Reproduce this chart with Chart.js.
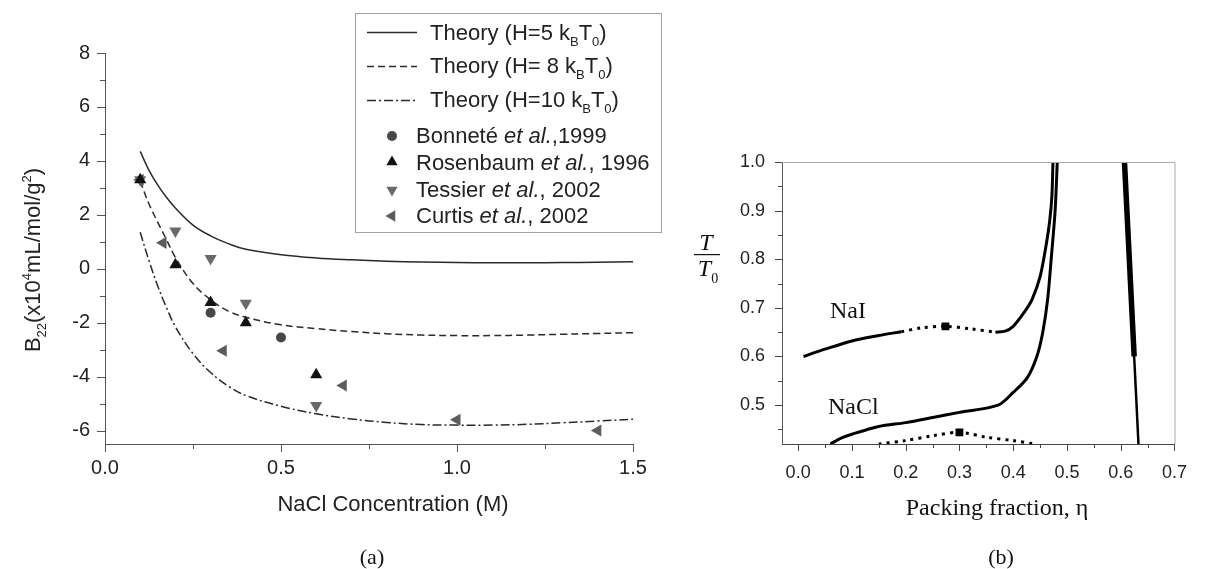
<!DOCTYPE html>
<html>
<head>
<meta charset="utf-8">
<script src="https://cdn.jsdelivr.net/npm/chart.js@4.4.0/dist/chart.umd.min.js"></script>
<style>
  html, body { margin: 0; padding: 0; background: #fff; }
  #wrap { position: relative; width: 1205px; height: 569px; overflow: hidden; }
  #left { position: absolute; left: 0; top: 0; }
  #right { position: absolute; left: 680px; top: 0; }
</style>
</head>
<body>
<div id="wrap">
  <canvas id="left" width="680" height="569" style="width:680px;height:569px"></canvas>
  <canvas id="right" width="525" height="569" style="width:525px;height:569px"></canvas>
</div>
<script>
// ---- (a) B22 vs NaCl concentration ----
const conc = [0.1, 0.125, 0.15, 0.175, 0.2, 0.25, 0.3, 0.35, 0.4, 0.5, 0.6, 0.7, 0.8, 0.9, 1.0, 1.1, 1.2, 1.3, 1.4, 1.5];
const theoryH5 = [4.35, 3.65, 3.1, 2.64, 2.25, 1.62, 1.22, 0.93, 0.72, 0.52, 0.4, 0.33, 0.28, 0.25, 0.23, 0.22, 0.22, 0.23, 0.24, 0.26];
const theoryH8 = [3.25, 2.4, 1.72, 1.07, 0.42, -0.55, -1.15, -1.57, -1.8, -2.08, -2.22, -2.33, -2.41, -2.46, -2.48, -2.48, -2.46, -2.43, -2.4, -2.37];
const theoryH10 = [1.35, 0.3, -0.65, -1.45, -2.15, -3.15, -3.85, -4.35, -4.7, -5.1, -5.38, -5.57, -5.7, -5.78, -5.8, -5.8, -5.77, -5.71, -5.65, -5.58];

const bonneteX = [0.3, 0.5];
const bonneteY = [-1.63, -2.55];
const rosenbaumX = [0.1, 0.2, 0.3, 0.4, 0.6];
const rosenbaumY = [3.3, 0.15, -1.25, -2.0, -3.93];
const tessierX = [0.1, 0.2, 0.3, 0.4, 0.6];
const tessierY = [3.3, 1.4, 0.38, -1.28, -5.07];
const curtisX = [0.1, 0.165, 0.336, 0.677, 1.0, 1.4];
const curtisY = [3.3, 0.96, -3.04, -4.33, -5.6, -6.0];

const leftXTicks = [0, 0.5, 1.0, 1.5];
const leftXMinor = [0.25, 0.75, 1.25];
const leftYTicks = [-6, -4, -2, 0, 2, 4, 6, 8];
const leftYMinor = [-5, -3, -1, 1, 3, 5, 7];

// legend labels: [text, style] pieces, style '' | 'i' | 'sub'
const theoryLabels = [
  [['Theory (H=5 k', ''], ['B', 'sub'], ['T', ''], ['0', 'sub'], [')', '']],
  [['Theory (H= 8 k', ''], ['B', 'sub'], ['T', ''], ['0', 'sub'], [')', '']],
  [['Theory (H=10 k', ''], ['B', 'sub'], ['T', ''], ['0', 'sub'], [')', '']]
];
const dataLabels = [
  [['Bonneté ', ''], ['et al.', 'i'], [',1999', '']],
  [['Rosenbaum ', ''], ['et al.', 'i'], [', 1996', '']],
  [['Tessier ', ''], ['et al.', 'i'], [', 2002', '']],
  [['Curtis ', ''], ['et al.', 'i'], [', 2002', '']]
];

// ---- (b) T/T0 vs packing fraction ----
const naiLowX = [0.01, 0.05, 0.1, 0.15, 0.192];
const naiLowY = [0.6, 0.615, 0.632, 0.643, 0.651];
const naiDotX = [0.192, 0.23, 0.274, 0.32, 0.367];
const naiDotY = [0.651, 0.659, 0.662, 0.657, 0.65];
const naiHighX = [0.367, 0.385, 0.4, 0.42, 0.435, 0.45, 0.462, 0.468, 0.472, 0.474];
const naiHighY = [0.65, 0.652, 0.662, 0.69, 0.717, 0.764, 0.834, 0.88, 0.93, 1.0];
const naclX = [0.06, 0.08, 0.1, 0.15, 0.2, 0.253, 0.3, 0.372, 0.4, 0.426, 0.444, 0.455, 0.464, 0.471, 0.478, 0.482];
const naclY = [0.42, 0.432, 0.44, 0.456, 0.464, 0.475, 0.485, 0.5, 0.526, 0.556, 0.6, 0.65, 0.717, 0.805, 0.9, 1.0];
const naclDotX = [0.15, 0.2, 0.25, 0.3, 0.35, 0.4, 0.44];
const naclDotY = [0.42, 0.427, 0.437, 0.444, 0.434, 0.427, 0.42];
const critX = [0.274, 0.3];
const critY = [0.662, 0.444];
const solidThickX = [0.607, 0.616, 0.625];
const solidThickY = [1.0, 0.8, 0.6];
const solidThinX = [0.621, 0.625, 0.633];
const solidThinY = [0.68, 0.6, 0.42];

const rightXTicks = [0, 0.1, 0.2, 0.3, 0.4, 0.5, 0.6, 0.7];
const rightXMinor = [0.05, 0.15, 0.25, 0.35, 0.45, 0.55, 0.65];
const rightYTicks = [0.5, 0.6, 0.7, 0.8, 0.9, 1.0];
const rightYMinor = [0.45, 0.55, 0.65, 0.75, 0.85, 0.95];

const SANS = "'Liberation Sans', Arial, sans-serif";
const SERIF = "'Liberation Serif', 'Times New Roman', serif";

const pts = (xs, ys) => xs.map((x, i) => ({ x: x, y: ys[i] }));

// draw a run of text pieces with italics / sub / superscripts
function richText(ctx, parts, x, y, size, family, align) {
  const fontFor = k => (k === 'i' ? 'italic ' : '') +
    Math.round(k === 'sub' || k === 'sup' ? size * 0.6 : size) + 'px ' + family;
  let w = 0;
  parts.forEach(([t, k]) => { ctx.font = fontFor(k); w += ctx.measureText(t).width; });
  let cx = align === 'center' ? x - w / 2 : x;
  ctx.textAlign = 'left';
  ctx.textBaseline = 'alphabetic';
  parts.forEach(([t, k]) => {
    ctx.font = fontFor(k);
    const dy = k === 'sub' ? size * 0.28 : k === 'sup' ? -size * 0.42 : 0;
    ctx.fillText(t, cx, y + dy);
    cx += ctx.measureText(t).width;
  });
}

function drawTicks(chart, xMaj, xMin, yMaj, yMin, lenMaj, lenMin, color) {
  const { ctx, chartArea: a, scales } = chart;
  ctx.save();
  ctx.strokeStyle = color;
  ctx.lineWidth = 1;
  ctx.beginPath();
  xMaj.concat(xMin).forEach((v, i) => {
    const px = Math.round(scales.x.getPixelForValue(v)) + 0.5;
    ctx.moveTo(px, a.bottom);
    ctx.lineTo(px, a.bottom + (i < xMaj.length ? lenMaj : lenMin));
  });
  yMaj.concat(yMin).forEach((v, i) => {
    const py = Math.round(scales.y.getPixelForValue(v)) + 0.5;
    ctx.moveTo(a.left, py);
    ctx.lineTo(a.left - (i < yMaj.length ? lenMaj : lenMin), py);
  });
  ctx.stroke();
  ctx.restore();
}

function marker(ctx, style, rot, r, x, y, color) {
  ctx.save();
  ctx.fillStyle = color;
  ctx.beginPath();
  if (style === 'circle') {
    ctx.arc(x, y, r, 0, Math.PI * 2);
  } else {
    let rad = rot * Math.PI / 180;
    for (let k = 0; k < 3; k++) {
      const px = x + Math.sin(rad) * r, py = y - Math.cos(rad) * r;
      k ? ctx.lineTo(px, py) : ctx.moveTo(px, py);
      rad += Math.PI * 2 / 3;
    }
    ctx.closePath();
  }
  ctx.fill();
  ctx.restore();
}

const lineStyles = [
  { borderDash: [] },
  { borderDash: [7, 4] },
  { borderDash: [9, 3, 2, 3] }
];
const markerStyles = [
  { pointStyle: 'circle', rotation: 0, pointRadius: 5, color: '#474747' },
  { pointStyle: 'triangle', rotation: 0, pointRadius: 7, color: '#111111' },
  { pointStyle: 'triangle', rotation: 180, pointRadius: 7, color: '#6a6a6a' },
  { pointStyle: 'triangle', rotation: -90, pointRadius: 7, color: '#5c5c5c' }
];

const leftDecor = {
  id: 'leftDecor',
  afterDraw(chart) {
    const ctx = chart.ctx;
    drawTicks(chart, leftXTicks, leftXMinor, leftYTicks, leftYMinor, 8, 5, '#555');
    ctx.save();
    ctx.fillStyle = '#222';
    // axis titles
    richText(ctx, [['NaCl Concentration (M)', '']], 393, 511, 22, SANS, 'center');
    ctx.save();
    ctx.translate(40, 260);
    ctx.rotate(-Math.PI / 2);
    richText(ctx, [['B', ''], ['22', 'sub'], ['(x10', ''], ['4', 'sup'], ['mL/mol/g', ''], ['2', 'sup'], [')', '']], 0, 0, 22, SANS, 'center');
    ctx.restore();
    ctx.fillStyle = '#111';
    richText(ctx, [['(a)', '']], 372, 564, 22, SERIF, 'center');

    // legend box
    ctx.fillStyle = '#fff';
    ctx.fillRect(355.5, 13.5, 306, 219);
    ctx.strokeStyle = '#a0a0a0';
    ctx.lineWidth = 1;
    ctx.strokeRect(355.5, 13.5, 306, 219);
    const lineRows = [32, 66, 100];
    const lineBase = [40, 73, 107];
    lineRows.forEach((yy, i) => {
      ctx.save();
      ctx.strokeStyle = '#2a2a2a';
      ctx.lineWidth = 1.5;
      ctx.setLineDash(lineStyles[i].borderDash);
      ctx.beginPath();
      ctx.moveTo(367, yy + 0.5);
      ctx.lineTo(417, yy + 0.5);
      ctx.stroke();
      ctx.restore();
      ctx.fillStyle = '#222';
      richText(ctx, theoryLabels[i], 430, lineBase[i], 22, SANS);
    });
    const dotRows = [136, 162, 190, 216];
    const dotBase = [143, 170, 197, 223];
    dotRows.forEach((yy, i) => {
      const m = markerStyles[i];
      marker(ctx, m.pointStyle, m.rotation, m.pointStyle === 'circle' ? 5 : 6.5, 392, yy, m.color);
      ctx.fillStyle = '#222';
      richText(ctx, dataLabels[i], 416, dotBase[i], 22, SANS);
    });
    ctx.restore();
  }
};

const theorySets = [theoryH5, theoryH8, theoryH10].map((ys, i) => ({
  data: pts(conc, ys),
  showLine: true,
  borderColor: '#2a2a2a',
  borderWidth: 1.5,
  borderDash: lineStyles[i].borderDash,
  pointRadius: 0,
  tension: 0.4,
  order: 2
}));
const expSets = [[bonneteX, bonneteY], [rosenbaumX, rosenbaumY], [tessierX, tessierY], [curtisX, curtisY]].map(([xs, ys], i) => ({
  data: pts(xs, ys),
  showLine: false,
  pointStyle: markerStyles[i].pointStyle,
  rotation: markerStyles[i].rotation,
  pointRadius: markerStyles[i].pointRadius,
  backgroundColor: markerStyles[i].color,
  borderColor: markerStyles[i].color,
  borderWidth: 0,
  order: 1
}));

new Chart(document.getElementById('left'), {
  type: 'scatter',
  data: { datasets: theorySets.concat(expSets) },
  options: {
    responsive: false,
    animation: false,
    events: [],
    layout: { padding: { top: 53, right: 47, left: 0, bottom: 0 } },
    plugins: { legend: { display: false }, tooltip: { enabled: false } },
    scales: {
      x: {
        type: 'linear', min: 0, max: 1.5,
        afterBuildTicks: s => { s.ticks = leftXTicks.map(v => ({ value: v })); },
        afterFit: s => { s.height = 125; },
        grid: { display: false, drawTicks: false },
        border: { display: true, color: '#555', width: 1 },
        ticks: { callback: v => v.toFixed(1), color: '#222', font: { family: SANS, size: 20 }, padding: 12, maxRotation: 0, autoSkip: false }
      },
      y: {
        type: 'linear', min: -6.5, max: 8,
        afterBuildTicks: s => { s.ticks = leftYTicks.map(v => ({ value: v })); },
        afterFit: s => { s.width = 105; },
        grid: { display: false, drawTicks: false },
        border: { display: true, color: '#555', width: 1 },
        ticks: { callback: v => String(v), color: '#222', font: { family: SANS, size: 20 }, padding: 15, autoSkip: false }
      }
    }
  },
  plugins: [leftDecor]
});

const rightDecor = {
  id: 'rightDecor',
  afterDraw(chart) {
    const ctx = chart.ctx;
    const a = chart.chartArea;
    ctx.save();
    ctx.strokeStyle = '#aaa';
    ctx.lineWidth = 1;
    ctx.beginPath();
    ctx.moveTo(a.left, a.top + 0.5);
    ctx.lineTo(a.right + 0.5, a.top + 0.5);
    ctx.lineTo(a.right + 0.5, a.bottom);
    ctx.stroke();
    ctx.restore();
    drawTicks(chart, rightXTicks, rightXMinor, rightYTicks, rightYMinor, 7, 4, '#444');
    ctx.save();
    ctx.fillStyle = '#111';
    richText(ctx, [['Packing fraction, η', '']], 317, 515, 24, SERIF, 'center');
    richText(ctx, [['(b)', '']], 321, 564, 22, SERIF, 'center');
    richText(ctx, [['NaI', '']], 150, 318, 24, SERIF);
    richText(ctx, [['NaCl', '']], 148, 414, 24, SERIF);
    // T/T0 axis label
    richText(ctx, [['T', 'i']], 26, 250, 24, SERIF, 'center');
    ctx.fillRect(14, 254, 26, 1.2);
    richText(ctx, [['T', 'i'], ['0', 'sub']], 28, 276, 24, SERIF, 'center');
    ctx.restore();
  }
};

const blackLine = (xs, ys, w, dash) => ({
  data: pts(xs, ys),
  showLine: true,
  borderColor: '#000',
  borderWidth: w,
  borderDash: dash || [],
  pointRadius: 0,
  tension: 0.3,
  order: 2
});

new Chart(document.getElementById('right'), {
  type: 'scatter',
  data: {
    datasets: [
      blackLine(naiLowX, naiLowY, 3),
      blackLine(naiDotX, naiDotY, 3, [3, 5]),
      blackLine(naiHighX, naiHighY, 3),
      blackLine(naclX, naclY, 3),
      blackLine(naclDotX, naclDotY, 3, [3, 5]),
      blackLine(solidThickX, solidThickY, 5.5),
      blackLine(solidThinX, solidThinY, 2.5),
      {
        data: pts(critX, critY),
        showLine: false,
        pointStyle: 'rect',
        pointRadius: 5.5,
        backgroundColor: '#000',
        borderColor: '#000',
        borderWidth: 0,
        order: 1
      }
    ]
  },
  options: {
    responsive: false,
    animation: false,
    events: [],
    layout: { padding: { top: 162, right: 15, left: 0, bottom: 0 } },
    plugins: { legend: { display: false }, tooltip: { enabled: false } },
    scales: {
      x: {
        type: 'linear', min: -0.03, max: 0.7,
        afterBuildTicks: s => { s.ticks = rightXTicks.map(v => ({ value: v })); },
        afterFit: s => { s.height = 125; },
        grid: { display: false, drawTicks: false },
        border: { display: true, color: '#444', width: 1 },
        ticks: { callback: v => v.toFixed(1), color: '#222', font: { family: SANS, size: 18 }, padding: 18, maxRotation: 0, autoSkip: false }
      },
      y: {
        type: 'linear', min: 0.42, max: 1.0,
        afterBuildTicks: s => { s.ticks = rightYTicks.map(v => ({ value: v })); },
        afterFit: s => { s.width = 102; },
        grid: { display: false, drawTicks: false },
        border: { display: true, color: '#555', width: 1 },
        ticks: { callback: v => v.toFixed(1), color: '#222', font: { family: SANS, size: 18 }, padding: 17, autoSkip: false }
      }
    }
  },
  plugins: [rightDecor]
});
</script>
</body>
</html>
